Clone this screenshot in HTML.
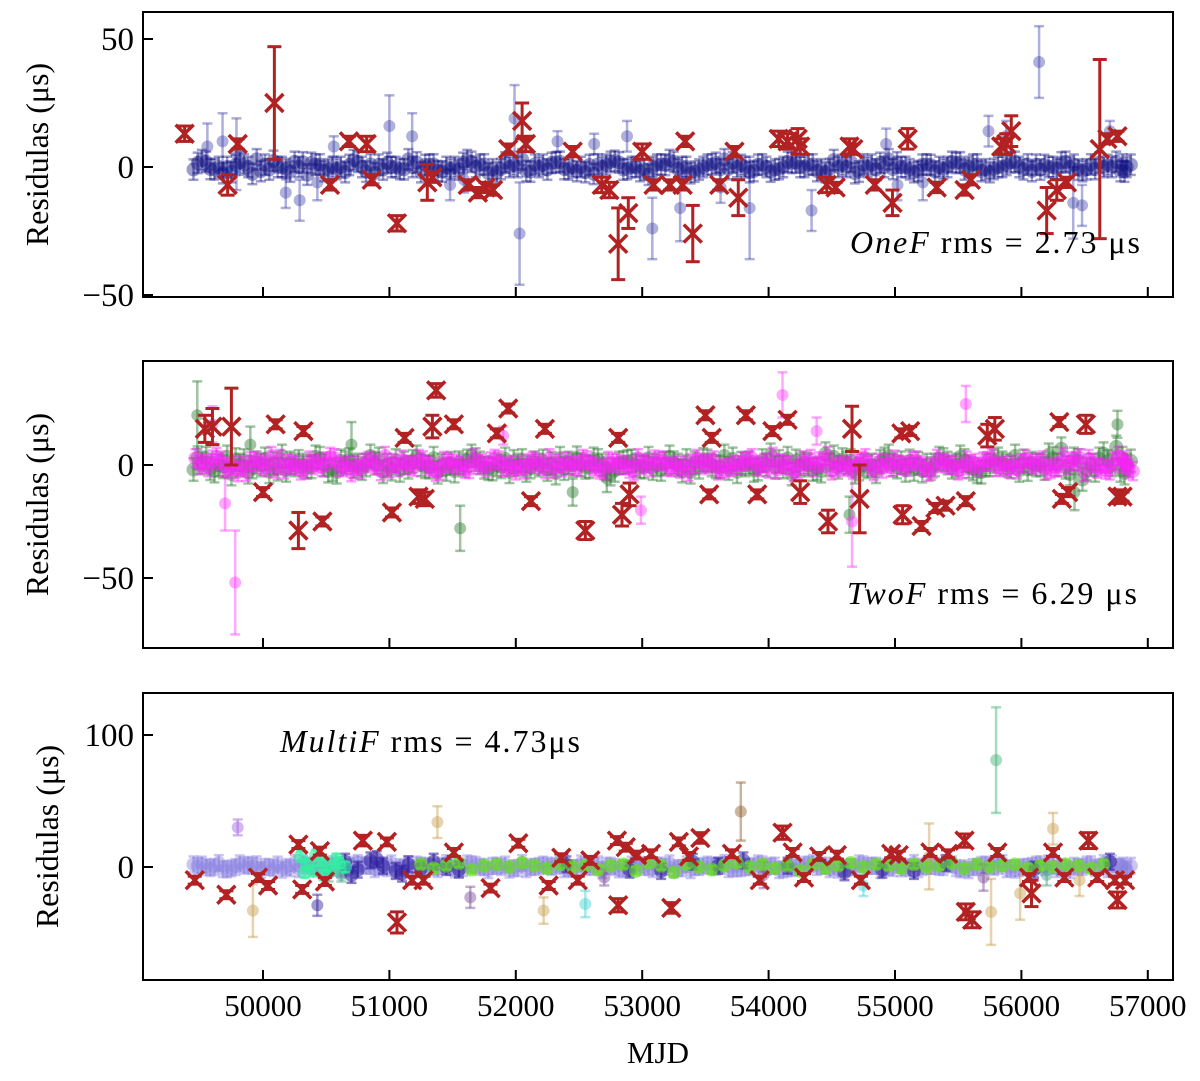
<!DOCTYPE html>
<html><head><meta charset="utf-8"><style>
body{margin:0;background:#fff}
svg text{font-family:"Liberation Serif",serif;fill:#000}
</style></head><body>
<svg id="c" width="1200" height="1076" viewBox="0 0 1200 1076" xmlns="http://www.w3.org/2000/svg"></svg>
<script>
const xTicks=[50000,51000,52000,53000,54000,55000,56000,57000];
const bandMJD=[49450,49550,49650,49750,49850,49950,50050,50150,50250,50350,50450,50550,50650,50750,50850,50950,51050,51150,51250,51350,51450,51550,51650,51750,51850,51950,52050,52150,52250,52350,52450,52550,52650,52750,52850,52950,53050,53150,53250,53350,53450,53550,53650,53750,53850,53950,54050,54150,54250,54350,54450,54550,54650,54750,54850,54950,55050,55150,55250,55350,55450,55550,55650,55750,55850,55950,56050,56150,56250,56350,56450,56550,56650,56750,56800];
const bandTop=[-1,2,0,-2,1,3,-1,0,2,-3,1,0,-2,2,1,-1,0,3,-2,1,0,-1,2,1,-2,0,3,1,-1,2,0,-2,1,2,-1,0,-3,1,2,0,-1,1,3,0,-2,1,-1,2,0,1,-2,0,2,1,-1,3,0,-2,1,0,2,-1,1,-2,0,2,1,-1,0,2,-1,1,0,2,1];
const bandMidG=[-2,3,0,-4,2,1,-3,4,0,-1,3,-2,1,0,4,-3,2,-1,0,3,-2,1,4,-1,0,-3,2,1,-2,3,0,-1,2,-4,1,0,3,-2,1,2,-1,0,4,-3,1,2,-1,3,0,-2,5,-1,2,0,-3,4,1,-2,0,3,-1,2,-3,0,1,4,-2,0,3,-1,2,0,5,8,3];
const bandMidM=[3,-1,2,0,-3,1,4,-2,0,2,-1,3,0,-2,1,4,-1,0,2,-3,1,0,3,-1,2,0,-2,1,3,-1,0,2,-2,1,0,3,-1,2,0,-3,1,2,-1,0,3,1,-2,0,2,-1,4,0,-2,3,1,-1,0,2,-3,1,0,2,-1,3,0,-2,1,2,-1,0,3,1,-2,4,2];
const bandBot=[2,0,3,-1,1,2,0,-2,3,1,0,2,-1,3,1,0,-2,2,1,0,3,-1,2,0,1,-2,3,0,1,2,-1,0,2,1,-1,3,0,1,-2,2,0,1,3,-1,0,2,1,-1,0,3,1,-2,0,2,1,0,-1,3,1,0,2,-1,0,1,3,-2,0,2,1,-1,0,2,3,0,1];
const redTop=[[49380,13,3],[49720,-7,4],[49800,9,2],[50090,25,22],[50530,-7,2],[50680,10,2],[50820,9,3],[50860,-5,2],[51060,-22,3],[51300,-6,7],[51340,-4,2],[51620,-7,2],[51700,-10,2],[51760,-8,2],[51820,-9,2],[51940,7,2],[52050,18,7],[52080,9,3],[52450,6,2],[52680,-7,3],[52740,-9,3],[52810,-30,14],[52890,-18,6],[53000,6,3],[53090,-7,2],[53220,-7,2],[53320,-7,2],[53340,10,2],[53400,-26,11],[53610,-7,2],[53730,6,2],[53760,-12,7],[54080,11,3],[54150,10,3],[54230,11,4],[54250,8,3],[54460,-7,3],[54530,-8,2],[54640,8,3],[54670,7,2],[54840,-7,2],[54980,-14,5],[55100,11,4],[55330,-8,2],[55550,-9,2],[55600,-5,2],[55840,8,3],[55880,9,4],[55920,14,6],[56200,-17,9],[56280,-9,4],[56360,-6,2],[56620,7,35],[56680,11,2],[56760,12,2]];
const blueOut=[[49560,8,9],[49680,10,11],[49790,5,14],[50180,-10,6],[50290,-13,8],[50430,-6,7],[50560,8,4],[51000,16,12],[51180,12,9],[51590,-5,5],[51990,19,13],[52030,-26,20],[52330,10,4],[52620,9,4],[52880,12,6],[53080,-24,12],[53300,-16,13],[53850,-16,20],[54340,-17,8],[54930,9,6],[55220,-6,7],[55740,14,6],[55880,12,6],[56140,41,14],[56410,-14,14],[56480,-15,8],[56700,14,4],[51480,-7,6],[53620,-8,6],[55020,-7,6]];
const redMid=[[49540,16,6],[49600,17,8],[49750,17,17],[50000,-12,2],[50100,18,2],[50280,-29,8],[50320,15,2],[50470,-25,2],[51020,-21,2],[51120,12,2],[51230,-14,3],[51280,-15,3],[51340,17,5],[51370,33,3],[51510,18,2],[51850,14,2],[51940,25,2],[52120,-16,2],[52230,16,2],[52550,-29,4],[52810,12,2],[52840,-22,5],[52900,-13,5],[53500,22,2],[53550,12,2],[53530,-13,2],[53820,22,2],[53910,-13,2],[54030,15,2],[54150,20,2],[54250,-12,5],[54470,-25,5],[54660,16,10],[54720,-15,15],[55050,14,2],[55120,15,2],[55060,-22,4],[55210,-27,2],[55320,-19,2],[55400,-18,2],[55560,-16,2],[55730,13,5],[55790,16,5],[56320,-15,2],[56370,-12,2],[56300,19,2],[56510,18,4],[56760,-14,3],[56800,-14,2]];
const magOut=[[49700,-17,12],[49780,-52,23],[49600,18,8],[51900,13,4],[52990,-20,6],[54110,31,10],[54660,-25,20],[55560,27,8],[54380,15,6]];
const greenOut=[[49480,22,15],[49900,9,8],[51560,-28,10],[50700,9,10],[52450,-12,6],[54640,-22,8],[56760,18,6],[52720,-6,6],[56420,-12,8]];
const redBot=[[49460,-10,3],[49710,-21,3],[49960,-8,3],[50040,-14,3],[50280,17,3],[50310,-17,3],[50450,12,3],[50490,-11,3],[50790,20,4],[50980,19,3],[51060,-42,8],[51180,-10,3],[51270,-10,3],[51510,11,3],[51800,-16,3],[52020,18,3],[52260,-14,3],[52360,7,3],[52490,-10,3],[52590,5,3],[52800,20,3],[52810,-29,5],[52870,15,3],[52960,9,3],[53070,10,3],[53230,-31,4],[53290,19,3],[53370,8,3],[53460,22,4],[53710,10,3],[53930,-10,3],[54110,26,5],[54190,11,3],[54280,-8,3],[54400,8,3],[54540,9,3],[54730,-10,3],[54970,10,3],[55030,9,3],[55280,11,3],[55420,10,3],[55550,20,5],[55560,-34,6],[55610,-40,6],[55810,11,3],[56060,-8,3],[56080,-20,10],[56250,11,3],[56340,-8,3],[56530,20,6],[56600,-8,3],[56740,-10,3],[56760,-25,6],[56820,-10,3]];
const botOut=[[55800,81,40,'#3cb371'],[53780,42,22,'#8b5a2b'],[51380,34,12,'#c8a050'],[56250,29,12,'#c8a050'],[49920,-33,20,'#c8a050'],[52220,-33,10,'#c8a050'],[52550,-28,10,'#40d0d0'],[51640,-23,8,'#7a4a9a'],[50430,-29,8,'#2a1a9a'],[55990,-20,20,'#c8a050'],[55760,-34,25,'#c8a050'],[49800,30,6,'#a060e0'],[54750,-14,8,'#40d0d0'],[55270,8,25,'#c8a050'],[56460,-10,12,'#c8a050'],[50520,-5,6,'#40a080'],[50620,-6,5,'#40a080'],[52700,-8,6,'#7a4a9a'],[53960,-6,10,'#7a4a9a'],[55700,-8,10,'#7a4a9a'],[56200,-6,8,'#40a080']];
const greenBand=[[52850,2],[52950,-3],[53050,3],[53150,1],[53250,-4],[53350,2],[53450,0],[53550,-2],[53650,1],[53750,3],[53850,0],[53950,2],[54050,-1],[54150,1],[54250,-3],[54350,2],[54450,-1],[54550,1],[54650,3],[54750,0],[54850,2],[54950,1],[55050,-1],[55150,2],[55250,0],[55350,1],[55450,3],[55550,-1],[55650,2],[55750,0],[55850,1],[55950,2],[56050,-1],[56150,1],[56250,0],[56350,2],[56450,1],[56550,-1],[56650,2],[52050,3],[52150,1],[52250,-1],[52350,2],[52450,0],[52550,1],[52650,-2],[52750,1],[51950,0],[51850,2],[51750,1],[51650,-2],[51550,3],[51450,1],[51350,-1],[51250,2]];
const cyanBand=[[50300,8],[50350,2],[50400,-3],[50450,5],[50500,1],[50550,-2],[50600,3],[50650,0],[50330,-4],[50420,9],[50480,-6],[50580,6]];
const darkBand=[[50650,4],[50750,-2],[50850,5],[50950,1],[51050,-3],[51150,2],[51250,-1],[51350,4],[51450,0],[51550,-2],[52400,2],[53150,-3],[53800,5],[54150,1],[54600,-4],[55400,3],[56100,-2],[56700,4],[55150,-3],[53400,4],[50700,-6],[50900,6],[51100,-5],[52900,-2],[53600,1],[54900,-2]];

const svg=document.getElementById('c');const NS='http://www.w3.org/2000/svg';
function el(t,a,p){const e=document.createElementNS(NS,t);for(const k in a)e.setAttribute(k,a[k]);(p||svg).appendChild(e);return e;}
const X0=143,X1=1173;
function sx(m){return 263+(m-50000)*0.1264;}
const panels=[{top:12,bot:297,y0:167,ppu:2.56,ticks:[50,0,-50],txt:[850,253,'OneF',' rms = 2.73 μs']},
{top:361,bot:648,y0:465,ppu:2.26,ticks:[0,-50],txt:[847,604,'TwoF',' rms = 6.29 μs']},
{top:693,bot:980,y0:867,ppu:1.32,ticks:[100,0],txt:[280,752,'MultiF',' rms = 4.73μs']}];
function mkG(name){const g=el('g',{});return g;}
function pt(g,P,m,v,e,col,op,r){const x=sx(m),y=P.y0-v*P.ppu,d=e*P.ppu;
 el('line',{x1:x,x2:x,y1:y-d,y2:y+d,stroke:col,'stroke-width':2.5,opacity:op},g);
 el('line',{x1:x-5,x2:x+5,y1:y-d,y2:y-d,stroke:col,'stroke-width':2.5,opacity:op},g);
 el('line',{x1:x-5,x2:x+5,y1:y+d,y2:y+d,stroke:col,'stroke-width':2.5,opacity:op},g);
 el('circle',{cx:x,cy:y,r:r||6,fill:col,opacity:op},g);}
function red(g,P,m,v,e){const x=sx(m),y=P.y0-v*P.ppu,d=e*P.ppu,c='#b22222';
 el('line',{x1:x,x2:x,y1:y-d,y2:y+d,stroke:c,'stroke-width':3},g);
 el('line',{x1:x-7,x2:x+7,y1:y-d,y2:y-d,stroke:c,'stroke-width':3},g);
 el('line',{x1:x-7,x2:x+7,y1:y+d,y2:y+d,stroke:c,'stroke-width':3},g);
 el('path',{d:`M${x-9} ${y-9}L${x+9} ${y+9}M${x-9} ${y+9}L${x+9} ${y-9}`,stroke:c,'stroke-width':3.5,fill:'none'},g);}
function band(g,P,arr,col,op,e,off){bandMJD.forEach((m,i)=>{if(i<arr.length){const o=off||0;
 pt(g,P,m+o,arr[i],e,col,op,7);pt(g,P,m+33+o,-arr[(i+3)%arr.length]*0.8,e,col,op,7);pt(g,P,m+66+o,arr[(i+5)%arr.length]*0.9,e,col,op,7);}});}
panels.forEach((P,pi)=>{
 const g=mkG('panel-'+(pi+1));
 const data=mkG('series-panel-'+(pi+1));g.appendChild(data);
 if(pi==0){blueOut.forEach(d=>pt(data,P,d[0],d[1],d[2],'#3a3aa8',0.4));band(data,P,bandTop,'#0a0a80',0.4,4);redTop.forEach(d=>red(data,P,d[0],d[1],d[2]));}
 if(pi==1){greenOut.forEach(d=>pt(data,P,d[0],d[1],d[2],'#2e7d32',0.45));magOut.forEach(d=>pt(data,P,d[0],d[1],d[2],'#ff40ff',0.45));band(data,P,bandMidG,'#2e7d32',0.45,5);band(data,P,bandMidM,'#ff20ff',0.45,4,16);redMid.forEach(d=>red(data,P,d[0],d[1],d[2]));}
 if(pi==2){band(data,P,bandBot,'#8a80e0',0.45,6);botOut.forEach(d=>pt(data,P,d[0],d[1],d[2],d[3],0.45));darkBand.forEach(d=>pt(data,P,d[0],d[1],6,'#2a1a9a',0.55,7));cyanBand.forEach(d=>pt(data,P,d[0],d[1],4,'#30f0a0',0.6,7));greenBand.forEach(d=>pt(data,P,d[0],d[1],3,'#66dd22',0.6,7));redBot.forEach(d=>red(data,P,d[0],d[1],d[2]));}
 el('rect',{x:X0,y:P.top,width:X1-X0,height:P.bot-P.top,fill:'none',stroke:'#000','stroke-width':2},g);
 xTicks.forEach(t=>{const x=sx(t);el('line',{x1:x,x2:x,y1:P.bot,y2:P.bot-10,stroke:'#000','stroke-width':2},g);
  if(pi==2){const tl=el('text',{x:x,y:1016,'text-anchor':'middle','font-size':31},g);tl.textContent=t;}});
 P.ticks.forEach(t=>{const y=P.y0-t*P.ppu;el('line',{x1:X0,x2:X0+10,y1:y,y2:y,stroke:'#000','stroke-width':2},g);
  const tl=el('text',{x:134,y:y+11,'text-anchor':'end','font-size':33},g);tl.textContent=t<0?'−'+(-t):t;});
 const yl=el('text',{x:0,y:0,'text-anchor':'middle','font-size':32,transform:`translate(${pi==2?58:48},${(P.top+P.bot)/2}) rotate(-90)`},g);
 yl.textContent='Residulas (μs)';
 const tx=el('text',{x:P.txt[0],y:P.txt[1],'font-size':32,textLength:pi==2?300:290,lengthAdjust:'spacing'},g);
 const it=el('tspan',{'font-style':'italic'},tx);it.textContent=P.txt[2];const r=el('tspan',{},tx);r.textContent=P.txt[3];
});
const xt=el('text',{x:658,y:1063,'text-anchor':'middle','font-size':31});xt.textContent='MJD';


</script>
</body></html>
